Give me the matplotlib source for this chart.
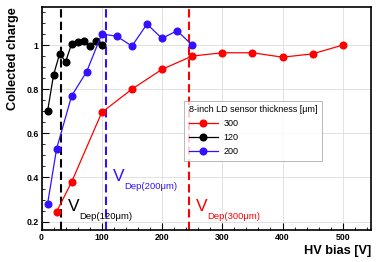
#!/usr/bin/env python
import matplotlib
matplotlib.use('Agg')
import matplotlib.pyplot as plt
from matplotlib.ticker import MultipleLocator

# data
v120 = [10, 20, 30, 40, 50, 60, 70, 80, 90, 100]
q120 = [0.70, 0.865, 0.96, 0.925, 1.005, 1.015, 1.02, 0.995, 1.02, 1.0]

v200 = [10, 25, 50, 75, 100, 125, 150, 175, 200, 225, 250]
q200 = [0.28, 0.53, 0.77, 0.88, 1.05, 1.04, 0.995, 1.095, 1.03, 1.065, 1.0]

v300 = [25, 50, 100, 150, 200, 250, 300, 350, 400, 450, 500]
q300 = [0.245, 0.38, 0.695, 0.80, 0.89, 0.95, 0.965, 0.965, 0.945, 0.96, 1.0]

vdep = [33, 107, 245]
vdep_names = ['120', '200', '300']

red = '#ff0000'
blue = '#3311ff'
black = '#000000'

plt.rcParams['font.family'] = ['Liberation Sans', 'DejaVu Sans']

fig = plt.figure(figsize=(3.81, 2.62), dpi=100)
ax = fig.add_axes([0.109, 0.122, 0.865, 0.851])

ms = 4.8
lw = 0.9
ax.plot(v300, q300, '-o', color=red, ms=ms, lw=lw, label='300', zorder=3)
ax.plot(v120, q120, '-o', color=black, ms=ms, lw=lw, label='120', zorder=3)
ax.plot(v200, q200, '-o', color=blue, ms=ms, lw=lw, label='200', zorder=3)

for v, c in zip(vdep, [black, blue, red]):
    ax.axvline(v, color=c, ls=(0, (4, 2)), lw=1.5, zorder=2)

# V_Dep labels
lab_pos = [(44, 0.27, black), (118, 0.405, blue), (256, 0.27, red)]
for (x, y, c), name in zip(lab_pos, vdep_names):
    ax.text(x, y, 'V', color=c, fontsize=12.5, ha='left', va='center')
    ax.text(x + 19, y - 0.045, 'Dep({}\u03bcm)'.format(name), color=c,
            fontsize=6.8, ha='left', va='center')

ax.set_xlim(0, 547)
ax.set_ylim(0.162, 1.172)
ax.xaxis.set_major_locator(MultipleLocator(100))
ax.xaxis.set_minor_locator(MultipleLocator(20))
ax.yaxis.set_major_locator(MultipleLocator(0.2))
ax.yaxis.set_minor_locator(MultipleLocator(0.05))
ax.set_yticks([0.2, 0.4, 0.6, 0.8, 1.0])
ax.set_yticklabels(['0.2', '0.4', '0.6', '0.8', '1'])
ax.tick_params(which='both', direction='in', top=False, right=False,
               labelsize=6.3, pad=2)
ax.tick_params(which='major', length=5, width=0.8)
ax.tick_params(which='minor', length=2.5, width=0.6)
for lbl in ax.get_xticklabels() + ax.get_yticklabels():
    lbl.set_fontweight('bold')
ax.grid(True, which='major', color='#dddddd', lw=0.6, zorder=0)
for s in ax.spines.values():
    s.set_linewidth(1.2)

ax.set_xlabel('HV bias [V]', fontsize=9.2, fontweight='bold', loc='right',
              labelpad=2)
ax.set_ylabel('Collected charge', fontsize=9.2, fontweight='bold', loc='top',
              labelpad=5)

leg = ax.legend(title='8-inch LD sensor thickness [\u03bcm]', fontsize=6.5,
                title_fontsize=6.5, loc='upper left',
                bbox_to_anchor=(0.42, 0.60), frameon=True, fancybox=False,
                edgecolor='#999999', handlelength=3.2, borderpad=0.5,
                labelspacing=0.55, alignment='left', handletextpad=0.6)
leg.get_frame().set_linewidth(0.6)

fig.savefig('out.png', dpi=100)
